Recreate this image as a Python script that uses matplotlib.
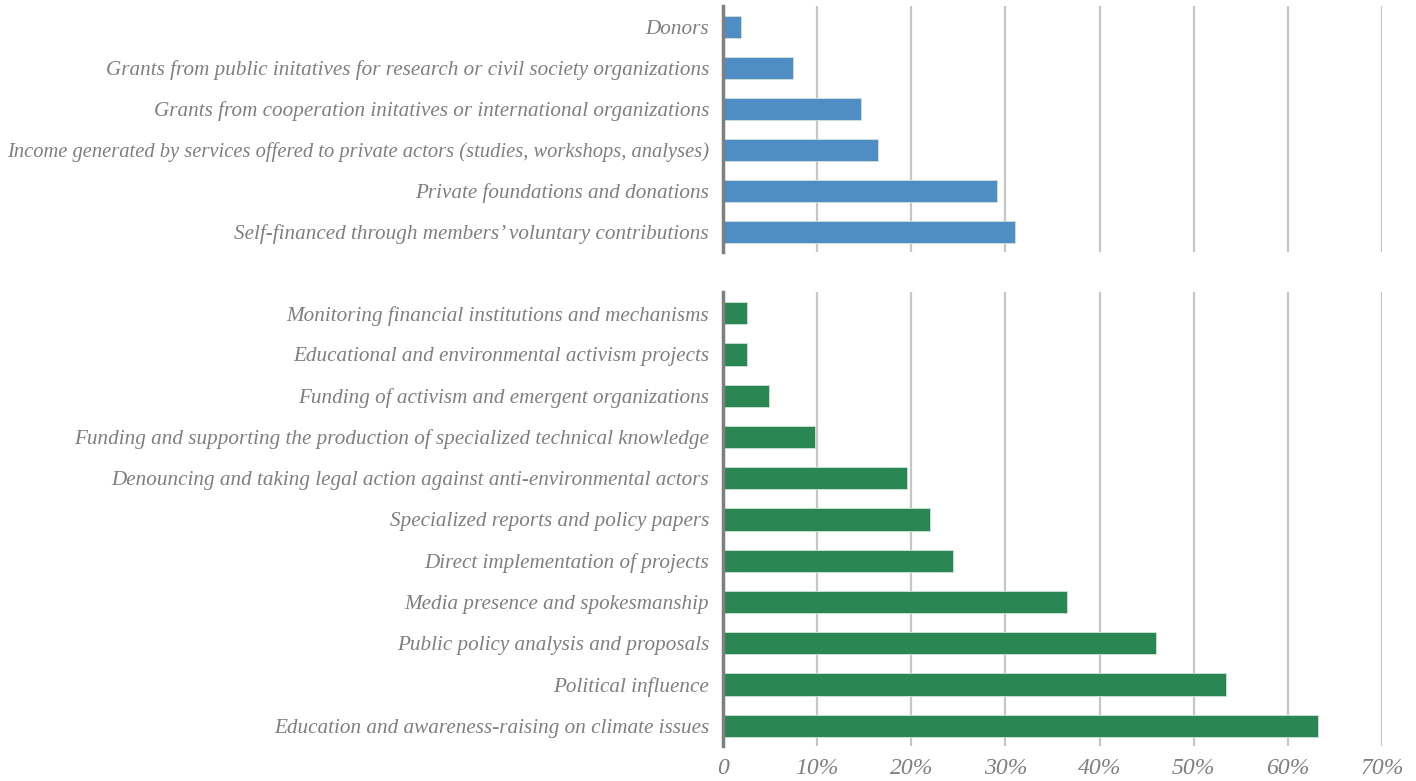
import matplotlib.pyplot as plt
from matplotlib.ticker import FuncFormatter

# Funding sources (top panel), bottom to top
funding_labels = [
    "Self-financed through members\u2019 voluntary contributions",
    "Private foundations and donations",
    "Income generated by services offered to private actors (studies, workshops, analyses)",
    "Grants from cooperation initatives or international organizations",
    "Grants from public initatives for research or civil society organizations",
    "Donors",
]
funding_values = [31.0, 29.1, 16.5, 14.7, 7.4, 1.9]

# Activities (bottom panel), bottom to top
activity_labels = [
    "Education and awareness-raising on climate issues",
    "Political influence",
    "Public policy analysis and proposals",
    "Media presence and spokesmanship",
    "Direct implementation of projects",
    "Specialized reports and policy papers",
    "Denouncing and taking legal action against anti-environmental actors",
    "Funding and supporting the production of specialized technical knowledge",
    "Funding of activism and emergent organizations",
    "Educational and environmental activism projects",
    "Monitoring financial institutions and mechanisms",
]
activity_values = [63.2, 53.4, 46.0, 36.5, 24.4, 22.0, 19.5, 9.8, 4.9, 2.5, 2.5]

xticks = [0, 10, 20, 30, 40, 50, 60, 70]

blue = "#4f8dc4"
green = "#2a8753"
text_gray = "#7f7f7f"
font = {"family": "Liberation Serif", "style": "italic"}

fig = plt.figure(figsize=(14.16, 7.81), dpi=100)
ax_top = fig.add_axes([0.5106, 0.6767, 0.4654, 0.315])
ax_bot = fig.add_axes([0.5106, 0.0442, 0.4654, 0.5813])


def style_axis(ax, labels, values, color):
    ax.barh(range(len(values)), values, height=0.54, color=color,
            edgecolor="#cfe3d6", linewidth=0.6, zorder=3)
    ax.set_xlim(0, 70)
    ax.set_ylim(-0.5, len(values) - 0.5)
    ax.set_xticks(xticks)
    ax.grid(axis="x", color="#c6c6c6", linewidth=1.6, zorder=0)
    ax.set_yticks(range(len(values)))
    ax.set_yticklabels(labels, fontsize=15.2, color=text_gray, **font)
    for s in ["top", "right", "bottom"]:
        ax.spines[s].set_visible(False)
    ax.spines["left"].set_color("#7f7f7f")
    ax.spines["left"].set_linewidth(2.5)
    ax.spines["left"].set_zorder(4)
    ax.tick_params(axis="y", length=0, pad=10)
    ax.tick_params(axis="x", length=0)


style_axis(ax_top, funding_labels, funding_values, blue)
style_axis(ax_bot, activity_labels, activity_values, green)

ax_top.set_xticklabels([])
ax_bot.xaxis.set_major_formatter(FuncFormatter(lambda v, p: "0" if v == 0 else f"{v:.0f}%"))
for t in ax_bot.get_xticklabels():
    t.set_fontsize(17)
    t.set_color(text_gray)
    t.set_family("Liberation Serif")
    t.set_style("italic")
ax_bot.tick_params(axis="x", pad=8)

# shrink any label that would run past the left edge
fig.canvas.draw()
renderer = fig.canvas.get_renderer()
for ax in (ax_top, ax_bot):
    for t in ax.get_yticklabels():
        bb = t.get_window_extent(renderer)
        if bb.x0 < 8:
            avail = bb.x1 - 8
            t.set_fontsize(t.get_fontsize() * avail / bb.width)

fig.savefig("out.png", dpi=100)
